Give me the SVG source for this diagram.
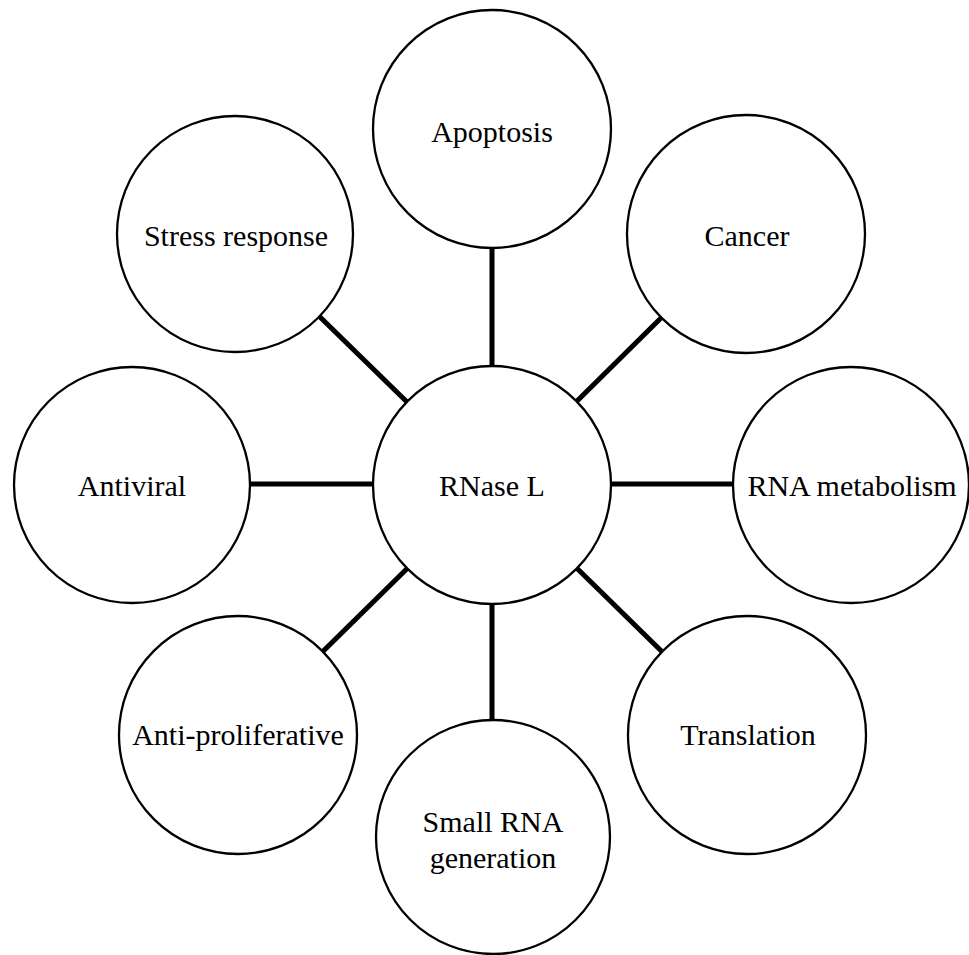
<svg xmlns="http://www.w3.org/2000/svg" width="969" height="955" viewBox="0 0 969 955">
<style>
.node circle{fill:#fff;stroke:#000;stroke-width:2.3}
.node text{font-family:"Liberation Serif","Times New Roman",serif;font-size:30px;fill:#000;text-anchor:middle}
.conn line{stroke:#000;stroke-width:5;stroke-linecap:butt}
</style>
<rect width="969" height="955" fill="#fff"/>
<g id="connectors" class="conn">
<line x1="492" y1="129" x2="492" y2="485"/>
<line x1="746" y1="234" x2="492" y2="485"/>
<line x1="235" y1="234" x2="492" y2="485"/>
<line x1="132" y1="484" x2="492" y2="484"/>
<line x1="851" y1="484" x2="492" y2="484"/>
<line x1="238" y1="735" x2="492" y2="485"/>
<line x1="492" y1="837" x2="492" y2="485"/>
<line x1="747" y1="735" x2="492" y2="485"/>
</g>
<g id="rnase-l" class="node"><circle cx="492" cy="485" r="119"/><text x="492" y="496">RNase L</text></g>
<g id="apoptosis" class="node"><circle cx="492" cy="129" r="119"/><text x="492" y="142">Apoptosis</text></g>
<g id="cancer" class="node"><circle cx="746" cy="234" r="119"/><text x="747" y="246">Cancer</text></g>
<g id="stress-response" class="node"><circle cx="235" cy="234" r="118"/><text x="236" y="246">Stress response</text></g>
<g id="antiviral" class="node"><circle cx="132" cy="485" r="118"/><text x="132" y="496">Antiviral</text></g>
<g id="rna-metabolism" class="node"><circle cx="851" cy="485" r="118"/><text x="852" y="496">RNA metabolism</text></g>
<g id="anti-proliferative" class="node"><circle cx="238" cy="735" r="119"/><text x="238" y="745">Anti-proliferative</text></g>
<g id="small-rna-generation" class="node"><circle cx="493" cy="837" r="117"/><text x="493" y="832">Small RNA</text><text x="493" y="868">generation</text></g>
<g id="translation" class="node"><circle cx="747" cy="735" r="119"/><text x="748" y="745">Translation</text></g>
</svg>
